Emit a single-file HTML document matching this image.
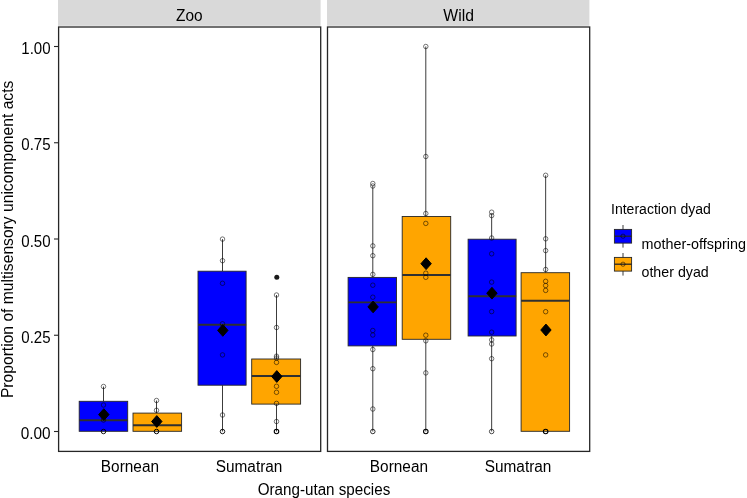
<!DOCTYPE html>
<html><head><meta charset="utf-8"><title>Orang-utan multisensory unicomponent acts</title>
<style>
html,body{margin:0;padding:0;background:#fff;}
svg{display:block;}
text{font-family:"Liberation Sans",Arial,sans-serif;fill:#000;}
</style></head><body>
<svg width="747" height="498" viewBox="0 0 747 498">
<rect width="747" height="498" fill="#fff"/>

<rect x="58" y="0" width="262.6" height="25.8" fill="#d9d9d9"/>
<rect x="327" y="0" width="262.4" height="25.8" fill="#d9d9d9"/>
<text x="189.3" y="20.8" font-size="15.6" text-anchor="middle" textLength="26.61" lengthAdjust="spacingAndGlyphs">Zoo</text>
<text x="458.6" y="20.8" font-size="15.6" text-anchor="middle" textLength="30.64" lengthAdjust="spacingAndGlyphs">Wild</text>
<g>
<line x1="103.5" y1="386.5" x2="103.5" y2="401.3" stroke="#262626" stroke-width="0.9"/>
<rect x="79.2" y="401.3" width="48.50" height="30.00" fill="#0000ff" stroke="#262626" stroke-width="0.9"/>
<line x1="79.2" y1="420.2" x2="127.7" y2="420.2" stroke="#303030" stroke-width="1.9"/>
</g>
<g>
<line x1="156.5" y1="400.5" x2="156.5" y2="413.1" stroke="#262626" stroke-width="0.9"/>
<rect x="133.0" y="413.1" width="48.60" height="18.20" fill="#ffa500" stroke="#262626" stroke-width="0.9"/>
<line x1="133.0" y1="425.3" x2="181.6" y2="425.3" stroke="#303030" stroke-width="1.9"/>
</g>
<g>
<line x1="222.5" y1="239.1" x2="222.5" y2="271.2" stroke="#262626" stroke-width="0.9"/>
<line x1="222.5" y1="385.2" x2="222.5" y2="431.5" stroke="#262626" stroke-width="0.9"/>
<rect x="198.0" y="271.2" width="48.10" height="114.00" fill="#0000ff" stroke="#262626" stroke-width="0.9"/>
<line x1="198.0" y1="324.7" x2="246.1" y2="324.7" stroke="#303030" stroke-width="1.9"/>
</g>
<g>
<line x1="276.5" y1="295" x2="276.5" y2="359" stroke="#262626" stroke-width="0.9"/>
<line x1="276.5" y1="404.1" x2="276.5" y2="431.5" stroke="#262626" stroke-width="0.9"/>
<rect x="251.7" y="359" width="48.90" height="45.10" fill="#ffa500" stroke="#262626" stroke-width="0.9"/>
<line x1="251.7" y1="376" x2="300.6" y2="376" stroke="#303030" stroke-width="1.9"/>
<circle cx="276.8" cy="277.3" r="2.5" fill="#1a1a1a"/>
</g>
<g>
<line x1="372.8" y1="185.6" x2="372.8" y2="277.4" stroke="#262626" stroke-width="0.9"/>
<line x1="372.8" y1="345.9" x2="372.8" y2="431.5" stroke="#262626" stroke-width="0.9"/>
<rect x="348.1" y="277.4" width="48.40" height="68.50" fill="#0000ff" stroke="#262626" stroke-width="0.9"/>
<line x1="348.1" y1="302.4" x2="396.5" y2="302.4" stroke="#303030" stroke-width="1.9"/>
</g>
<g>
<line x1="425.8" y1="46.5" x2="425.8" y2="216.5" stroke="#262626" stroke-width="0.9"/>
<line x1="425.8" y1="339.3" x2="425.8" y2="431.5" stroke="#262626" stroke-width="0.9"/>
<rect x="402.2" y="216.5" width="48.50" height="122.80" fill="#ffa500" stroke="#262626" stroke-width="0.9"/>
<line x1="402.2" y1="275" x2="450.7" y2="275" stroke="#303030" stroke-width="1.9"/>
</g>
<g>
<line x1="491.65" y1="213.7" x2="491.65" y2="239.2" stroke="#262626" stroke-width="0.9"/>
<line x1="491.65" y1="336" x2="491.65" y2="431.5" stroke="#262626" stroke-width="0.9"/>
<rect x="468.1" y="239.2" width="48.00" height="96.80" fill="#0000ff" stroke="#262626" stroke-width="0.9"/>
<line x1="468.1" y1="296.2" x2="516.1" y2="296.2" stroke="#303030" stroke-width="1.9"/>
</g>
<g>
<line x1="545.65" y1="175.3" x2="545.65" y2="272.7" stroke="#262626" stroke-width="0.9"/>
<rect x="521.1" y="272.7" width="48.50" height="158.60" fill="#ffa500" stroke="#262626" stroke-width="0.9"/>
<line x1="521.1" y1="300.7" x2="569.6" y2="300.7" stroke="#303030" stroke-width="1.9"/>
</g>
<g fill="none" stroke="#000" stroke-opacity="0.82" stroke-width="0.65">
<circle cx="103.5" cy="386.5" r="2.25"/>
<circle cx="103.5" cy="405" r="2.25"/>
<circle cx="103.5" cy="420" r="2.25"/>
<circle cx="103.5" cy="431.5" r="2.25" stroke-width="0.9" stroke-opacity="1"/>
</g>
<g fill="none" stroke="#000" stroke-opacity="0.82" stroke-width="0.65">
<circle cx="156.5" cy="400.5" r="2.25"/>
<circle cx="156.5" cy="410.3" r="2.25"/>
<circle cx="156.5" cy="431.5" r="2.25" stroke-width="1.0" stroke-opacity="1"/>
</g>
<g fill="none" stroke="#000" stroke-opacity="0.82" stroke-width="0.65">
<circle cx="222.5" cy="239.1" r="2.25"/>
<circle cx="222.5" cy="260.7" r="2.25"/>
<circle cx="222.5" cy="283.3" r="2.25"/>
<circle cx="222.5" cy="323.8" r="2.25"/>
<circle cx="222.5" cy="354.9" r="2.25"/>
<circle cx="222.5" cy="415" r="2.25"/>
<circle cx="222.5" cy="431.5" r="2.25" stroke-width="0.9" stroke-opacity="1"/>
</g>
<g fill="none" stroke="#000" stroke-opacity="0.82" stroke-width="0.65">
<circle cx="276.5" cy="295" r="2.25"/>
<circle cx="276.5" cy="327.5" r="2.25"/>
<circle cx="276.5" cy="356.2" r="2.25"/>
<circle cx="276.5" cy="358" r="2.25"/>
<circle cx="276.5" cy="362.4" r="2.25"/>
<circle cx="276.5" cy="386.3" r="2.25"/>
<circle cx="276.5" cy="392.3" r="2.25"/>
<circle cx="276.5" cy="403.4" r="2.25"/>
<circle cx="276.5" cy="421.5" r="2.25"/>
<circle cx="276.5" cy="431.5" r="2.25" stroke-width="1.1" stroke-opacity="1"/>
</g>
<g fill="none" stroke="#000" stroke-opacity="0.82" stroke-width="0.65">
<circle cx="372.8" cy="183.5" r="2.25"/>
<circle cx="372.8" cy="186" r="2.25"/>
<circle cx="372.8" cy="245.9" r="2.25"/>
<circle cx="372.8" cy="255.7" r="2.25"/>
<circle cx="372.8" cy="274.4" r="2.25"/>
<circle cx="372.8" cy="285.2" r="2.25"/>
<circle cx="372.8" cy="297.2" r="2.25"/>
<circle cx="372.8" cy="330.5" r="2.25"/>
<circle cx="372.8" cy="335" r="2.25"/>
<circle cx="372.8" cy="349.5" r="2.25"/>
<circle cx="372.8" cy="368.7" r="2.25"/>
<circle cx="372.8" cy="409" r="2.25"/>
<circle cx="372.8" cy="431.5" r="2.25" stroke-width="0.8" stroke-opacity="1"/>
</g>
<g fill="none" stroke="#000" stroke-opacity="0.82" stroke-width="0.65">
<circle cx="425.8" cy="46.5" r="2.25"/>
<circle cx="425.8" cy="156.5" r="2.25"/>
<circle cx="425.8" cy="213.5" r="2.25"/>
<circle cx="425.8" cy="223.4" r="2.25"/>
<circle cx="425.8" cy="273.2" r="2.25"/>
<circle cx="425.8" cy="277.3" r="2.25"/>
<circle cx="425.8" cy="335.2" r="2.25"/>
<circle cx="425.8" cy="340.8" r="2.25"/>
<circle cx="425.8" cy="372.9" r="2.25"/>
<circle cx="425.8" cy="431.5" r="2.25" stroke-width="1.1" stroke-opacity="1"/>
</g>
<g fill="none" stroke="#000" stroke-opacity="0.82" stroke-width="0.65">
<circle cx="491.65" cy="212.2" r="2.25"/>
<circle cx="491.65" cy="215.6" r="2.25"/>
<circle cx="491.65" cy="238" r="2.25"/>
<circle cx="491.65" cy="253.8" r="2.25"/>
<circle cx="491.65" cy="282.1" r="2.25"/>
<circle cx="491.65" cy="311.6" r="2.25"/>
<circle cx="491.65" cy="332.2" r="2.25"/>
<circle cx="491.65" cy="339.9" r="2.25"/>
<circle cx="491.65" cy="344" r="2.25"/>
<circle cx="491.65" cy="358.7" r="2.25"/>
<circle cx="491.65" cy="431.5" r="2.25" stroke-width="0.7" stroke-opacity="1"/>
</g>
<g fill="none" stroke="#000" stroke-opacity="0.82" stroke-width="0.65">
<circle cx="545.65" cy="175.3" r="2.25"/>
<circle cx="545.65" cy="238.8" r="2.25"/>
<circle cx="545.65" cy="250.6" r="2.25"/>
<circle cx="545.65" cy="269.5" r="2.25"/>
<circle cx="545.65" cy="281.3" r="2.25"/>
<circle cx="545.65" cy="285.5" r="2.25"/>
<circle cx="545.65" cy="290.4" r="2.25"/>
<circle cx="545.65" cy="311.7" r="2.25"/>
<circle cx="545.65" cy="354.9" r="2.25"/>
<circle cx="545.65" cy="431.5" r="2.25" stroke-width="1.1" stroke-opacity="1"/>
</g>
<path d="M98.60 414.6 L103.80 408.70000000000005 L109.00 414.6 L103.80 420.5 Z" fill="#000" stroke="#000" stroke-width="1" stroke-linejoin="round"/>
<path d="M151.60 421.5 L156.80 415.6 L162.00 421.5 L156.80 427.4 Z" fill="#000" stroke="#000" stroke-width="1" stroke-linejoin="round"/>
<path d="M217.60 330.4 L222.80 324.5 L228.00 330.4 L222.80 336.29999999999995 Z" fill="#000" stroke="#000" stroke-width="1" stroke-linejoin="round"/>
<path d="M271.60 376.5 L276.80 370.6 L282.00 376.5 L276.80 382.4 Z" fill="#000" stroke="#000" stroke-width="1" stroke-linejoin="round"/>
<path d="M367.90 306.9 L373.10 301.0 L378.30 306.9 L373.10 312.79999999999995 Z" fill="#000" stroke="#000" stroke-width="1" stroke-linejoin="round"/>
<path d="M420.90 263.7 L426.10 257.8 L431.30 263.7 L426.10 269.59999999999997 Z" fill="#000" stroke="#000" stroke-width="1" stroke-linejoin="round"/>
<path d="M486.75 293.2 L491.95 287.3 L497.15 293.2 L491.95 299.09999999999997 Z" fill="#000" stroke="#000" stroke-width="1" stroke-linejoin="round"/>
<path d="M540.75 330 L545.95 324.1 L551.15 330 L545.95 335.9 Z" fill="#000" stroke="#000" stroke-width="1" stroke-linejoin="round"/>
<rect x="58.6" y="27.0" width="262.1" height="424.4" fill="none" stroke="#262626" stroke-width="1.3"/>
<rect x="327.5" y="27.0" width="262.2" height="424.4" fill="none" stroke="#262626" stroke-width="1.3"/>
<line x1="54" y1="431.5" x2="58" y2="431.5" stroke="#262626" stroke-width="1.1"/>
<text x="50.6" y="439.2" font-size="15.6" text-anchor="end" textLength="29.91" lengthAdjust="spacingAndGlyphs">0.00</text>
<line x1="54" y1="335.25" x2="58" y2="335.25" stroke="#262626" stroke-width="1.1"/>
<text x="50.6" y="342.95" font-size="15.6" text-anchor="end" textLength="29.30" lengthAdjust="spacingAndGlyphs">0.25</text>
<line x1="54" y1="239.0" x2="58" y2="239.0" stroke="#262626" stroke-width="1.1"/>
<text x="50.6" y="246.7" font-size="15.6" text-anchor="end" textLength="29.30" lengthAdjust="spacingAndGlyphs">0.50</text>
<line x1="54" y1="142.75" x2="58" y2="142.75" stroke="#262626" stroke-width="1.1"/>
<text x="50.6" y="150.45" font-size="15.6" text-anchor="end" textLength="29.30" lengthAdjust="spacingAndGlyphs">0.75</text>
<line x1="54" y1="46.5" x2="58" y2="46.5" stroke="#262626" stroke-width="1.1"/>
<text x="50.6" y="54.2" font-size="15.6" text-anchor="end" textLength="29.30" lengthAdjust="spacingAndGlyphs">1.00</text>
<text x="129.95" y="472.0" font-size="15.6" text-anchor="middle" textLength="58.16" lengthAdjust="spacingAndGlyphs">Bornean</text>
<text x="249.05" y="472.0" font-size="15.6" text-anchor="middle" textLength="66.69" lengthAdjust="spacingAndGlyphs">Sumatran</text>
<text x="398.95" y="472.0" font-size="15.6" text-anchor="middle" textLength="58.16" lengthAdjust="spacingAndGlyphs">Bornean</text>
<text x="518.05" y="472.0" font-size="15.6" text-anchor="middle" textLength="66.69" lengthAdjust="spacingAndGlyphs">Sumatran</text>
<text x="324" y="495.0" font-size="15.6" text-anchor="middle" textLength="132.47" lengthAdjust="spacingAndGlyphs">Orang-utan species</text>
<text x="0" y="0" font-size="15.6" text-anchor="middle" textLength="317.45" lengthAdjust="spacingAndGlyphs" transform="translate(13.1,239.4) rotate(-90)">Proportion of multisensory unicomponent acts</text>
<text x="611" y="213.6" font-size="14" text-anchor="start" textLength="99.92" lengthAdjust="spacingAndGlyphs">Interaction dyad</text>
<line x1="623" y1="225.0" x2="623" y2="247.6" stroke="#262626" stroke-width="0.9"/>
<rect x="614.4" y="229.39999999999998" width="17.2" height="13.7" fill="#0000ff" stroke="#262626" stroke-width="0.9"/>
<line x1="614.4" y1="236.2" x2="631.6" y2="236.2" stroke="#262626" stroke-width="1.3"/>
<circle cx="623" cy="236.2" r="2.1" fill="none" stroke="#000" stroke-opacity="0.82" stroke-width="0.65"/>
<text x="641.5" y="249" font-size="14.3" text-anchor="start" textLength="104.38" lengthAdjust="spacingAndGlyphs">mother-offspring</text>
<line x1="623" y1="253.0" x2="623" y2="275.59999999999997" stroke="#262626" stroke-width="0.9"/>
<rect x="614.4" y="257.4" width="17.2" height="13.7" fill="#ffa500" stroke="#262626" stroke-width="0.9"/>
<line x1="614.4" y1="264.2" x2="631.6" y2="264.2" stroke="#262626" stroke-width="1.3"/>
<circle cx="623" cy="264.2" r="2.1" fill="none" stroke="#000" stroke-opacity="0.82" stroke-width="0.65"/>
<text x="641.5" y="276.6" font-size="14.3" text-anchor="start" textLength="67.24" lengthAdjust="spacingAndGlyphs">other dyad</text>
</svg></body></html>
